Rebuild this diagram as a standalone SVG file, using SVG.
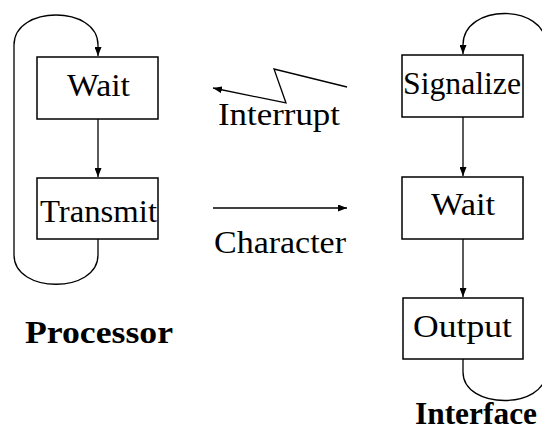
<svg xmlns="http://www.w3.org/2000/svg" width="542" height="431" viewBox="0 0 542 431">
<style>
.box{fill:#fff;stroke:#000;stroke-width:1.5}
.lbl{font-family:"Liberation Serif","Times New Roman",serif;font-size:31px;fill:#000}
.bold{font-weight:bold}
.edge{fill:none;stroke:#000;stroke-width:1.3}
</style>
<defs>
<marker id="ah" markerWidth="10" markerHeight="7" refX="9" refY="3.5" orient="auto" markerUnits="userSpaceOnUse">
<path d="M0,0 L9,3.5 L0,7 z" fill="#000"/>
</marker>
</defs>
<rect width="542" height="431" fill="#fff"/>
<g id="connectors">
<path class="edge" d="M98,239 L98,255 C98,294 14,294 14,255 L14,45 C14,5 98,5 98,45 L98,56" marker-end="url(#ah)"/>
<path class="edge" d="M98,119 L98,177" marker-end="url(#ah)"/>
<path class="edge" d="M463,359 L463,372 C463,410 546,410 546,372 L546,45 C546,3 463,3 463,45 L463,54" marker-end="url(#ah)"/>
<path class="edge" d="M463,117 L463,176" marker-end="url(#ah)"/>
<path class="edge" d="M463,239 L463,297" marker-end="url(#ah)"/>
<path class="edge" d="M347,87 L274,69 L286,103 L213,88" marker-end="url(#ah)"/>
<path class="edge" d="M213,208 L347,208" marker-end="url(#ah)"/>
</g>
<g id="label-interrupt"><text class="lbl" x="218" y="125" textLength="122" lengthAdjust="spacingAndGlyphs">Interrupt</text></g>
<g id="label-character"><text class="lbl" x="214" y="253" textLength="132" lengthAdjust="spacingAndGlyphs">Character</text></g>
<g id="p-wait"><rect class="box" x="37" y="57" width="121" height="62"/><text class="lbl" x="67" y="96" textLength="63" lengthAdjust="spacingAndGlyphs">Wait</text></g>
<g id="p-transmit"><rect class="box" x="37" y="178" width="121" height="61"/><text class="lbl" x="40" y="222" textLength="117" lengthAdjust="spacingAndGlyphs">Transmit</text></g>
<g id="i-signalize"><rect class="box" x="402" y="55" width="121" height="62"/><text class="lbl" x="403" y="94" textLength="118" lengthAdjust="spacingAndGlyphs">Signalize</text></g>
<g id="i-wait"><rect class="box" x="402" y="177" width="121" height="62"/><text class="lbl" x="431" y="215" textLength="64" lengthAdjust="spacingAndGlyphs">Wait</text></g>
<g id="i-output"><rect class="box" x="403" y="298" width="120" height="61"/><text class="lbl" x="413" y="337" textLength="99" lengthAdjust="spacingAndGlyphs">Output</text></g>
<g id="processor"><text class="lbl bold" x="25" y="343" textLength="148" lengthAdjust="spacingAndGlyphs">Processor</text></g>
<g id="interface"><text class="lbl bold" x="415" y="424" textLength="122" lengthAdjust="spacingAndGlyphs">Interface</text></g>
</svg>
